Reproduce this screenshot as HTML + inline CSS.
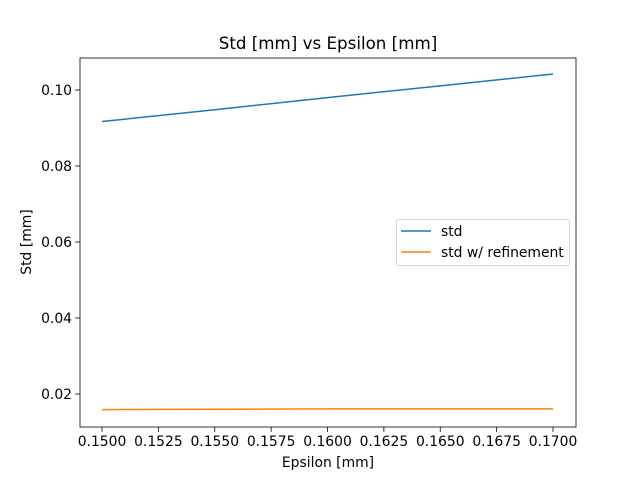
<!DOCTYPE html>
<html><head><meta charset="utf-8"><style>body{margin:0;background:#fff}svg text{font-family:"DejaVu Sans","Liberation Sans",sans-serif}</style></head>
<body>
<svg id="c" width="640" height="480" xmlns="http://www.w3.org/2000/svg"></svg>
<script>
const xs = [0.15, 0.155, 0.16, 0.165, 0.17];
const stdVals = [0.0917, 0.0948, 0.0980, 0.1011, 0.1042];
const refVals = [0.0159, 0.0160, 0.0161, 0.0161, 0.0161];
const xTicks = [0.15, 0.1525, 0.155, 0.1575, 0.16, 0.1625, 0.165, 0.1675, 0.17];
const xTickLabels = ["0.1500","0.1525","0.1550","0.1575","0.1600","0.1625","0.1650","0.1675","0.1700"];
const yTicks = [0.02, 0.04, 0.06, 0.08, 0.10];
const yTickLabels = ["0.02","0.04","0.06","0.08","0.10"];
const L=80,R=576,T=58,B=427;
const X=v=>102+(v-0.15)/0.02*451;
const Y=v=>394-(v-0.02)/0.02*76;
const svg=document.getElementById('c');
const NS='http://www.w3.org/2000/svg';
function mk(t,a,p){const e=document.createElementNS(NS,t);for(const k in a)e.setAttribute(k,a[k]);(p||svg).appendChild(e);return e;}
let e;
e=mk('rect',{x:L,y:T,width:R-L,height:B-T,fill:'none',stroke:'#000','stroke-width':0.8});


xTicks.forEach((v,i)=>{
  e=mk('line',{x1:X(v),x2:X(v),y1:B,y2:B+4.9,stroke:'#000','stroke-width':0.8});
  
  
  e=mk('text',{x:X(v),y:B+19,'font-size':13.9,'text-anchor':'middle'});e.textContent=xTickLabels[i];
  
  
});
yTicks.forEach((v,i)=>{
  e=mk('line',{x1:L-4.9,x2:L,y1:Y(v),y2:Y(v),stroke:'#000','stroke-width':0.8});
  
  
  e=mk('text',{x:L-8,y:Y(v)+5,'font-size':13.9,'text-anchor':'end'});e.textContent=yTickLabels[i];
  
  
});
function line(vals,color,name){
  e=mk('polyline',{points:xs.map((x,i)=>X(x)+','+Y(vals[i])).join(' '),fill:'none',stroke:color,'stroke-width':1.5});
  
  
}
line(stdVals,'#1f77b4','std-line');
line(refVals,'#ff7f0e','std-refinement-line');
e=mk('text',{x:328,y:49,'font-size':16.7,'text-anchor':'middle'});e.textContent='Std [mm] vs Epsilon [mm]';


e=mk('text',{x:328,y:467,'font-size':13.9,'text-anchor':'middle'});e.textContent='Epsilon [mm]';


e=mk('text',{x:31,y:242,'font-size':13.9,'text-anchor':'middle',transform:'rotate(-90 31 242)'});e.textContent='Std [mm]';


const g=mk('g',{});


mk('rect',{x:396.5,y:219.5,width:173,height:46,rx:2,fill:'#fff','fill-opacity':0.8,stroke:'#ccc','stroke-width':0.8},g);
[['std','#1f77b4',231],['std w/ refinement','#ff7f0e',252]].forEach(([t,c,y])=>{
  const h=mk('g',{},g);
  
  
  mk('line',{x1:401,x2:431,y1:y,y2:y,stroke:c,'stroke-width':1.5},h);
  const tx=mk('text',{x:441,y:y+5,'font-size':13.9},h);tx.textContent=t;
});
</script>
</body></html>
